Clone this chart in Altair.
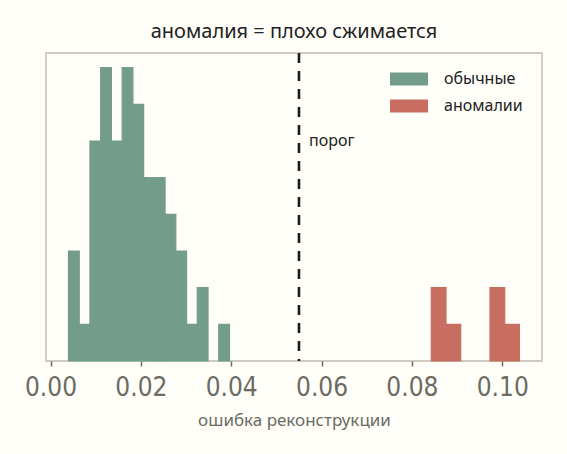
import altair as alt
import pandas as pd

# histogram of reconstruction errors
normal_edges = [0.00398, 0.00636, 0.00873, 0.01111, 0.01348, 0.01586, 0.01824, 0.02061,
                0.02299, 0.02536, 0.02774, 0.03012, 0.03249, 0.03487, 0.03724, 0.03962]
normal_counts = [3, 1, 6, 8, 6, 8, 7, 5, 5, 4, 3, 1, 2, 0, 1]
anomaly_edges = [0.0843, 0.08755, 0.0908, 0.09405, 0.0973, 0.10055, 0.1038]
anomaly_counts = [2, 1, 0, 0, 2, 1]
threshold = 0.055
x_ticks = [0.00, 0.02, 0.04, 0.06, 0.08, 0.10]
groups = ["обычные", "аномалии"]
colors = ["#739d8a", "#c86e60"]

rows = []
for i, c in enumerate(normal_counts):
    if c > 0:
        rows.append(dict(start=normal_edges[i], end=normal_edges[i + 1], count=c, base=0, group=groups[0]))
for i, c in enumerate(anomaly_counts):
    if c > 0:
        rows.append(dict(start=anomaly_edges[i], end=anomaly_edges[i + 1], count=c, base=0, group=groups[1]))
df = pd.DataFrame(rows)

FONT = "Noto Sans"
TICKFONT = "DejaVu Sans Condensed, Noto Sans"
xscale = alt.Scale(domain=[-0.001, 0.1088], nice=False, zero=False)
yscale = alt.Scale(domain=[0, 8.4], nice=False, zero=True)
xtitle = "ошибка реконструкции"
cscale = alt.Scale(domain=groups, range=colors)

xaxis = alt.Axis(values=x_ticks, format=".2f", title=xtitle, grid=False,
                 labelFont=TICKFONT, labelFontSize=26, labelColor="#6b6b63",
                 labelPadding=8, tickColor="#6b6b63", tickSize=5, tickWidth=1.5,
                 domain=False, titleFont=FONT, titleFontSize=17, titleFontWeight="normal",
                 titleColor="#6b6b63", titlePadding=12, labelFlush=False)

legend = alt.Legend(title=None, orient="none", legendX=344, legendY=7,
                    symbolType="M-1,-0.34L1,-0.34L1,0.34L-1,0.34Z", symbolSize=1444,
                    symbolStrokeWidth=0, symbolOpacity=1,
                    labelFont=FONT, labelFontSize=16, labelColor="#222222",
                    labelOffset=16, rowPadding=-10, padding=0)

bars = alt.Chart(df).mark_rect(strokeWidth=1.2).encode(
    x=alt.X("start:Q", scale=xscale, axis=xaxis),
    x2="end:Q",
    y=alt.Y("count:Q", scale=yscale, axis=None),
    y2="base:Q",
    color=alt.Color("group:N", scale=cscale, legend=legend),
    stroke=alt.Stroke("group:N", scale=cscale, legend=None),
)

thr_df = pd.DataFrame({"thr": [threshold], "label": ["порог"], "ly": [6.0]})
rule = alt.Chart(thr_df).mark_rule(strokeDash=[10, 8], strokeWidth=2.6, color="#1c1c1c").encode(
    x=alt.X("thr:Q", scale=xscale, title=xtitle),
)
label = alt.Chart(thr_df).mark_text(align="left", baseline="middle", dx=10, font=FONT,
                                    fontSize=16, color="#222222").encode(
    x=alt.X("thr:Q", scale=xscale, title=xtitle),
    y=alt.Y("ly:Q", scale=yscale, axis=None),
    text="label:N",
)

chart = alt.layer(bars, rule, label).properties(
    width=496, height=308,
    autosize=alt.AutoSizeParams(type="none"),
    padding={"left": 46, "top": 53, "right": 25, "bottom": 93},
    background="#fffef8",
    title=alt.TitleParams("аномалия = плохо сжимается", font=FONT, fontSize=20,
                          fontWeight="normal", color="#222222", anchor="middle", offset=10),
).configure_view(stroke="#cdcbc1", strokeWidth=1.8, fill="#fffef8")

chart.save("out.html", embed_options={"renderer": "svg", "actions": False})
